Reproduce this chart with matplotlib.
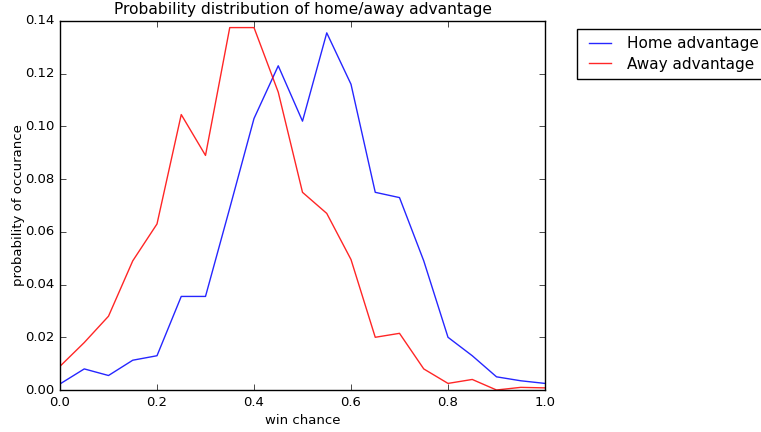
import numpy as np
import matplotlib
matplotlib.use('Agg')
import matplotlib.pyplot as plt

plt.style.use('classic')
plt.rcParams['font.size'] = 9.5
plt.rcParams['figure.facecolor'] = 'white'
plt.rcParams['savefig.facecolor'] = 'white'

win_chance = [0.0, 0.05, 0.1, 0.15, 0.2, 0.25, 0.3, 0.35, 0.4, 0.45, 0.5,
              0.55, 0.6, 0.65, 0.7, 0.75, 0.8, 0.85, 0.9, 0.95, 1.0]
home_adv = [0.0023, 0.008, 0.0055, 0.0113, 0.013, 0.0355, 0.0355, 0.069, 0.103, 0.123, 0.102,
            0.1355, 0.116, 0.075, 0.073, 0.049, 0.020, 0.013, 0.005, 0.0035, 0.0025]
away_adv = [0.009, 0.018, 0.028, 0.049, 0.063, 0.1045, 0.089, 0.1375, 0.1375, 0.113, 0.075,
            0.067, 0.0495, 0.020, 0.0215, 0.008, 0.0025, 0.004, 0.0, 0.001, 0.0008]

fig = plt.figure(figsize=(7.61, 4.32), dpi=100)
ax = fig.add_axes([60/761, 1 - 390/432, 485/761, 369/432])

ax.plot(win_chance, home_adv, 'b', alpha=0.85, label='Home advantage')
ax.plot(win_chance, away_adv, 'r', alpha=0.85, label='Away advantage')

ax.set_xlim(0, 1)
ax.set_ylim(0, 0.14)
ax.set_xlabel('win chance', labelpad=4)
ax.set_ylabel('probability of occurance', labelpad=0)
ax.set_title('Probability distribution of home/away advantage', fontsize=11.2)
ax.legend(bbox_to_anchor=(1.05, 1), loc='upper left', borderaxespad=0.5,
          fontsize=11, labelspacing=0.35, borderpad=0.5)

fig.savefig('out.png', dpi=100)
